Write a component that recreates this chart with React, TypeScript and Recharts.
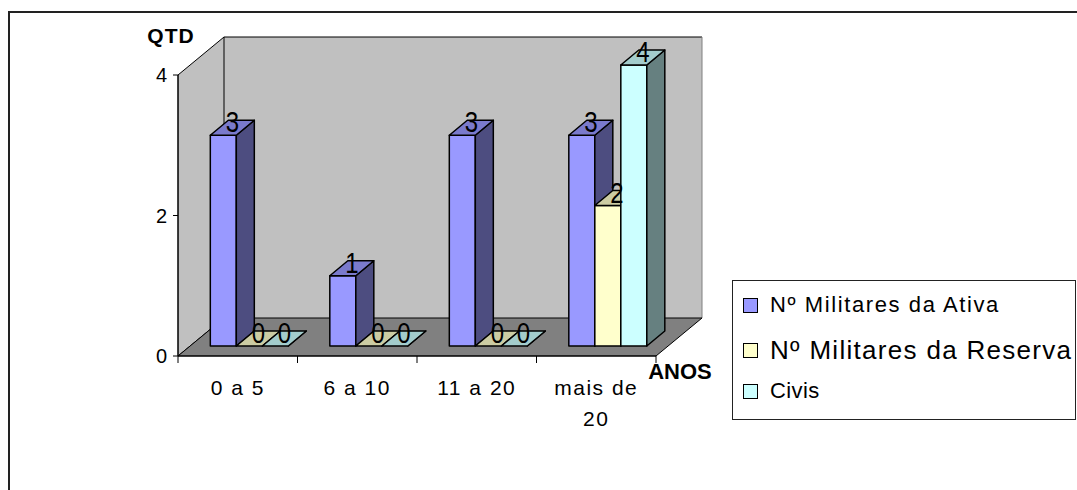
import React from "react";
import { BarChart, Bar, XAxis, YAxis, Legend, LabelList } from "recharts";

const categories = ["0 a 5", "6 a 10", "11 a 20", "mais de 20"];
const ativa = [3, 1, 3, 3];
const reserva = [0, 0, 0, 2];
const civis = [0, 0, 0, 4];
const seriesNames = ["Nº Militares da Ativa", "Nº Militares da Reserva", "Civis"];
const yTicks = [0, 2, 4];

const data = categories.map((name, i) => ({
  name,
  ativa: ativa[i],
  reserva: reserva[i],
  civis: civis[i],
}));

const W = 1077;
const H = 490;
const PLOT = { left: 178, top: 75, right: 656, bottom: 356 };
const Y_AXIS_W = 40;
const X_AXIS_H = 60;
// depth of the walls / floor
const WALL_DX = 46;
const WALL_DY = 38;
// bars sit a little behind the front plane and have their own depth
const BAR_OX = 12;
const BAR_OY = 10;
const BAR_DX = 18;
const BAR_DY = 15;
const BAND = (PLOT.right - PLOT.left) / categories.length;

const FONT = "'Liberation Sans', Arial, sans-serif";

const tones = [
  { front: "#9999FF", top: "#7A7ACC", side: "#4D4D80" },
  { front: "#FFFFCC", top: "#CCCCA3", side: "#808066" },
  { front: "#CCFFFF", top: "#A3CCCC", side: "#668080" },
];

const legendRows = [
  { top: 12, fontSize: 22, spacing: 1.6 },
  { top: 57, fontSize: 26, spacing: 1.3 },
  { top: 98, fontSize: 22, spacing: 0.4 },
];

function Box3D(props: any) {
  const { x, y, width, height, tone } = props;
  const fx = Number(x) + BAR_OX;
  const fy = Number(y) - BAR_OY;
  const w = Number(width);
  const h = Math.max(Number(height) || 0, 0);
  const stroke = { stroke: "#000", strokeWidth: 1.5, strokeLinejoin: "round" as const };
  return (
    <g>
      <rect x={fx} y={fy} width={w} height={h} fill={tone.front} {...stroke} />
      <polygon
        points={`${fx + w},${fy} ${fx + w + BAR_DX},${fy - BAR_DY} ${fx + w + BAR_DX},${fy + h - BAR_DY} ${fx + w},${fy + h}`}
        fill={tone.side}
        {...stroke}
      />
      <polygon
        points={`${fx},${fy} ${fx + BAR_DX},${fy - BAR_DY} ${fx + w + BAR_DX},${fy - BAR_DY} ${fx + w},${fy}`}
        fill={tone.top}
        {...stroke}
      />
    </g>
  );
}

function ValueLabel(props: any) {
  const vb = props.viewBox ?? props;
  const x = Number(vb.x ?? props.x);
  const y = Number(vb.y ?? props.y);
  const width = Number(vb.width ?? props.width);
  const cx = x + BAR_OX + width / 2 + BAR_DX / 2;
  const base = y - BAR_OY - 3;
  return (
    <g transform={`translate(${cx},${base}) scale(1,1.2)`}>
      <text x={0} y={0} textAnchor="middle" fontFamily={FONT} fontSize={24} fill="#000">
        {props.value}
      </text>
    </g>
  );
}

function wrapLabel(text: string, maxChars = 8) {
  const lines: string[] = [];
  let cur = "";
  for (const word of text.split(" ")) {
    const next = cur ? `${cur} ${word}` : word;
    if (next.length > maxChars && cur) {
      lines.push(cur);
      cur = word;
    } else {
      cur = next;
    }
  }
  if (cur) lines.push(cur);
  return lines;
}

function CategoryTick(props: any) {
  const { x, y, payload, index } = props;
  const half = BAND / 2;
  const lines = wrapLabel(String(payload.value));
  return (
    <g>
      <line x1={x - half} y1={y} x2={x - half} y2={y + 7} stroke="#000" />
      {index === categories.length - 1 && (
        <line x1={x + half} y1={y} x2={x + half} y2={y + 7} stroke="#000" />
      )}
      <text
        x={x}
        y={y + 39}
        textAnchor="middle"
        fontFamily={FONT}
        fontSize={21}
        letterSpacing={1.5}
        fill="#000"
      >
        {lines.map((line, i) => (
          <tspan key={i} x={x} dy={i === 0 ? 0 : 31}>
            {line}
          </tspan>
        ))}
      </text>
    </g>
  );
}

// legend rows follow the series order, not the alphabetical one
function LegendBox() {
  return (
    <div
      style={{
        position: "relative",
        width: 344,
        height: 140,
        boxSizing: "border-box",
        border: "1px solid #222",
        background: "#fff",
        fontFamily: FONT,
      }}
    >
      {seriesNames.map((name, i) => {
        const row = legendRows[i];
        return (
          <div
            key={name}
            style={{
              position: "absolute",
              left: 10,
              top: row.top,
              height: 24,
              display: "flex",
              alignItems: "center",
              whiteSpace: "nowrap",
            }}
          >
            <span
              style={{
                width: 15,
                height: 15,
                boxSizing: "border-box",
                border: "1.5px solid #000",
                background: tones[i].front,
                marginRight: 12,
              }}
            />
            <span style={{ fontSize: row.fontSize, letterSpacing: row.spacing, color: "#000" }}>
              {name}
            </span>
          </div>
        );
      })}
    </div>
  );
}

function Walls() {
  const { left: L, top: T, right: R, bottom: B } = PLOT;
  return (
    <svg width={W} height={H} style={{ position: "absolute", left: 0, top: 0 }}>
      <rect x={L + WALL_DX} y={T - WALL_DY} width={R - L} height={B - T} fill="#C0C0C0" />
      <polygon
        points={`${L},${T} ${L + WALL_DX},${T - WALL_DY} ${L + WALL_DX},${B - WALL_DY} ${L},${B}`}
        fill="#C0C0C0"
        stroke="#000"
      />
      <line x1={L + WALL_DX} y1={T - WALL_DY} x2={R + WALL_DX} y2={T - WALL_DY} stroke="#000" />
      <line x1={R + WALL_DX} y1={T - WALL_DY} x2={R + WALL_DX} y2={B - WALL_DY} stroke="#808080" />
      <polygon
        points={`${L},${B} ${R},${B} ${R + WALL_DX},${B - WALL_DY} ${L + WALL_DX},${B - WALL_DY}`}
        fill="#808080"
        stroke="#000"
      />
      <text x={171} y={43} textAnchor="middle" fontFamily={FONT} fontWeight="bold" fontSize={21} letterSpacing={1}>
        QTD
      </text>
      <text x={680} y={379} textAnchor="middle" fontFamily={FONT} fontWeight="bold" fontSize={22}>
        ANOS
      </text>
    </svg>
  );
}

export default function App() {
  const keys = ["ativa", "reserva", "civis"];
  return (
    <div
      style={{
        position: "fixed",
        left: 0,
        top: 0,
        width: W,
        height: H,
        overflow: "hidden",
        background: "#fff",
      }}
    >
      <div
        style={{
          position: "absolute",
          left: 8,
          top: 11,
          width: 1200,
          height: 600,
          borderLeft: "2px solid #222",
          borderTop: "2px solid #222",
        }}
      />
      <Walls />
      <div style={{ position: "absolute", left: 0, top: 0 }}>
        <BarChart
          width={W}
          height={H}
          data={data}
          margin={{
            top: PLOT.top,
            left: PLOT.left - Y_AXIS_W,
            right: W - PLOT.right,
            bottom: H - PLOT.bottom - X_AXIS_H,
          }}
          barCategoryGap="17%"
          barGap={0}
        >
          <XAxis
            dataKey="name"
            height={X_AXIS_H}
            axisLine={{ stroke: "#000" }}
            tickLine={false}
            tickSize={0}
            tickMargin={0}
            interval={0}
            tick={<CategoryTick />}
          />
          <YAxis
            width={Y_AXIS_W}
            domain={[0, 4]}
            ticks={yTicks}
            axisLine={{ stroke: "#000" }}
            tickLine={{ stroke: "#000" }}
            tickSize={5}
            tickMargin={6}
            tick={{ fill: "#000", fontSize: 20, fontFamily: FONT }}
          />
          <Legend
            layout="vertical"
            align="center"
            verticalAlign="middle"
            wrapperStyle={{ left: 732, top: 280, width: 344, height: 140 }}
            content={<LegendBox />}
          />
          {keys.map((key, i) => (
            <Bar
              key={key}
              dataKey={key}
              name={seriesNames[i]}
              fill={tones[i].front}
              isAnimationActive={false}
              shape={(p: any) => <Box3D {...p} tone={tones[i]} />}
            >
              <LabelList dataKey={key} content={<ValueLabel />} />
            </Bar>
          ))}
        </BarChart>
      </div>
    </div>
  );
}
